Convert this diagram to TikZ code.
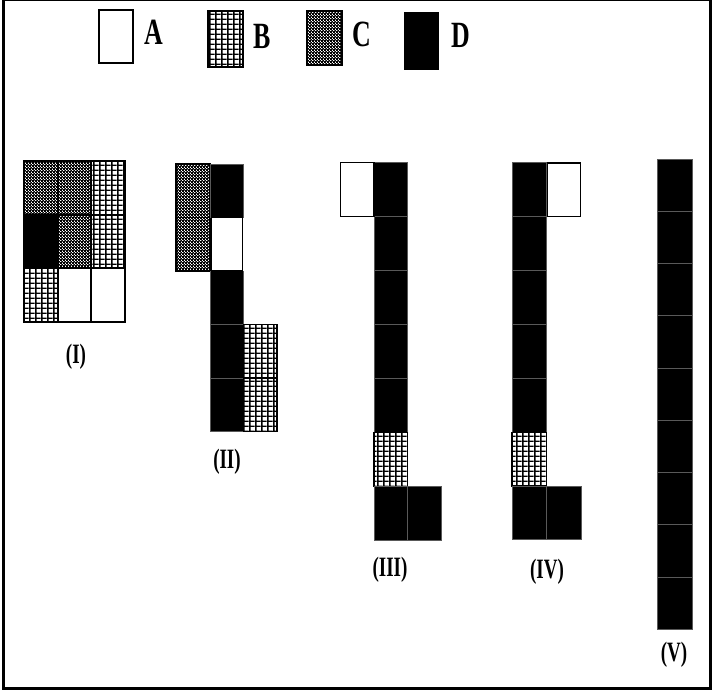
\documentclass[tikz,border=0pt]{standalone}
\usepackage{fontspec}
\setmainfont{Liberation Serif}
\usetikzlibrary{patterns}
\pgfdeclarepatternformonly{Bgrid}{\pgfpointorigin}{\pgfqpoint{5.8pt}{5.4pt}}{\pgfqpoint{5.8pt}{5.4pt}}{%
  \pgfpathrectangle{\pgfpointorigin}{\pgfqpoint{1.7pt}{5.4pt}}%
  \pgfpathrectangle{\pgfpointorigin}{\pgfqpoint{5.8pt}{1.6pt}}%
  \pgfusepath{fill}}
\pgfdeclarepatternformonly{Cchk}{\pgfpointorigin}{\pgfqpoint{3.4pt}{3.4pt}}{\pgfqpoint{3.4pt}{3.4pt}}{%
  \pgfpathrectangle{\pgfpointorigin}{\pgfqpoint{2.2pt}{2.2pt}}%
  \pgfpathrectangle{\pgfqpoint{1.7pt}{1.7pt}}{\pgfqpoint{1.9pt}{1.9pt}}%
  \pgfusepath{fill}}
\tikzset{
  cellA/.style={draw=black, line width=1.8pt, fill=white},
  cellB/.style={draw=black, line width=1.8pt, pattern=Bgrid},
  cellC/.style={draw=black, line width=1.8pt, pattern=Cchk},
  cellD/.style={draw=black!65, line width=0.5pt, fill=black},
  leglab/.style={font=\fontsize{37}{37}\selectfont\bfseries, xscale=0.7, inner sep=0pt},
  figlab/.style={font=\fontsize{28}{28}\selectfont\bfseries, xscale=0.68, inner sep=0pt},
}
\begin{document}
\begin{tikzpicture}[x=1pt,y=-1pt]
\useasboundingbox (0,0) rectangle (713,691);
\fill[white] (0,0) rectangle (713,691);
\draw[line width=2.6pt] (3.5,0) rectangle (710.5,688.5);

% legend
\draw[cellA] (99,10) rectangle (133,63);
\node[leglab] (la) at (154,32) {A};
\draw[cellB] (208,11) rectangle (243,67);
\node[leglab] (lb) at (262,36) {B};
\draw[cellC] (307,11) rectangle (342,65);
\node[leglab] (lc) at (362,34) {C};
\fill[black] (404,12) rectangle (439,70);
\node[leglab] (ld) at (461,35) {D};

% Figure I
\def\xa{24}\def\xb{57.7}\def\xc{91.3}\def\xd{125}
\def\ya{161}\def\yb{214.7}\def\yc{268.3}\def\yd{322}
\draw[cellC] (\xa,\ya) rectangle (\xb,\yb);
\draw[cellC] (\xb,\ya) rectangle (\xc,\yb);
\draw[cellB] (\xc,\ya) rectangle (\xd,\yb);
\draw[cellC] (\xb,\yb) rectangle (\xc,\yc);
\draw[cellB] (\xc,\yb) rectangle (\xd,\yc);
\draw[cellB] (\xa,\yc) rectangle (\xb,\yd);
\draw[cellA] (\xb,\yc) rectangle (\xc,\yd);
\draw[cellA] (\xc,\yc) rectangle (\xd,\yd);
\fill[black] (\xa,\yb) rectangle (\xb,\yc);
\draw[line width=1.8pt] (\xa,\yb) rectangle (\xb,\yc);
\node[figlab] (l1) at (76,357) {(I)};

% Figure II
\def\xa{176}\def\xb{210}\def\xc{243.5}\def\xd{277}
\draw[cellC] (\xa,164) rectangle (\xb,217.5);
\draw[cellC] (\xa,217.5) rectangle (\xb,271);
\foreach \y in {164,271,324.5,378}{\draw[cellD] (\xb,\y) rectangle ++(33.5,53.5);}
\draw[cellA] (\xb+1.5,217.5) rectangle (\xc-1,271);
\draw[cellB] (\xc,324.5) rectangle (\xd,378);
\draw[cellB] (\xc,378) rectangle (\xd,431.5);
\node[figlab] (l2) at (227,462) {(II)};

% Figure III
\foreach \i in {0,...,4}{\draw[cellD] (374,162.5+54*\i) rectangle ++(33.5,54);}
\draw[cellA] (340.5,162.5) rectangle (374,216.5);
\draw[cellB] (374,432.5) rectangle (407.5,486.5);
\draw[cellD] (374,486.5) rectangle (407.5,540.5);
\draw[cellD] (407.5,486.5) rectangle (441,540.5);
\node[figlab] (l3) at (390,570) {(III)};

% Figure IV
\foreach \i in {0,...,4}{\draw[cellD] (512,162.5+54*\i) rectangle ++(34.5,54);}
\draw[cellA] (547.5,163) rectangle (580.5,216.5);
\draw[cellB] (512,432.5) rectangle (546.5,486);
\draw[cellD] (512,486) rectangle (546.5,539.5);
\draw[cellD] (546.5,486) rectangle (581,539.5);
\node[figlab] (l4) at (547,572) {(IV)};

% Figure V
\foreach \i in {0,...,8}{\draw[cellD] (657,159+52.22*\i) rectangle ++(35,52.22);}
\node[figlab] (l5) at (674,655) {(V)};
\end{tikzpicture}
\end{document}
